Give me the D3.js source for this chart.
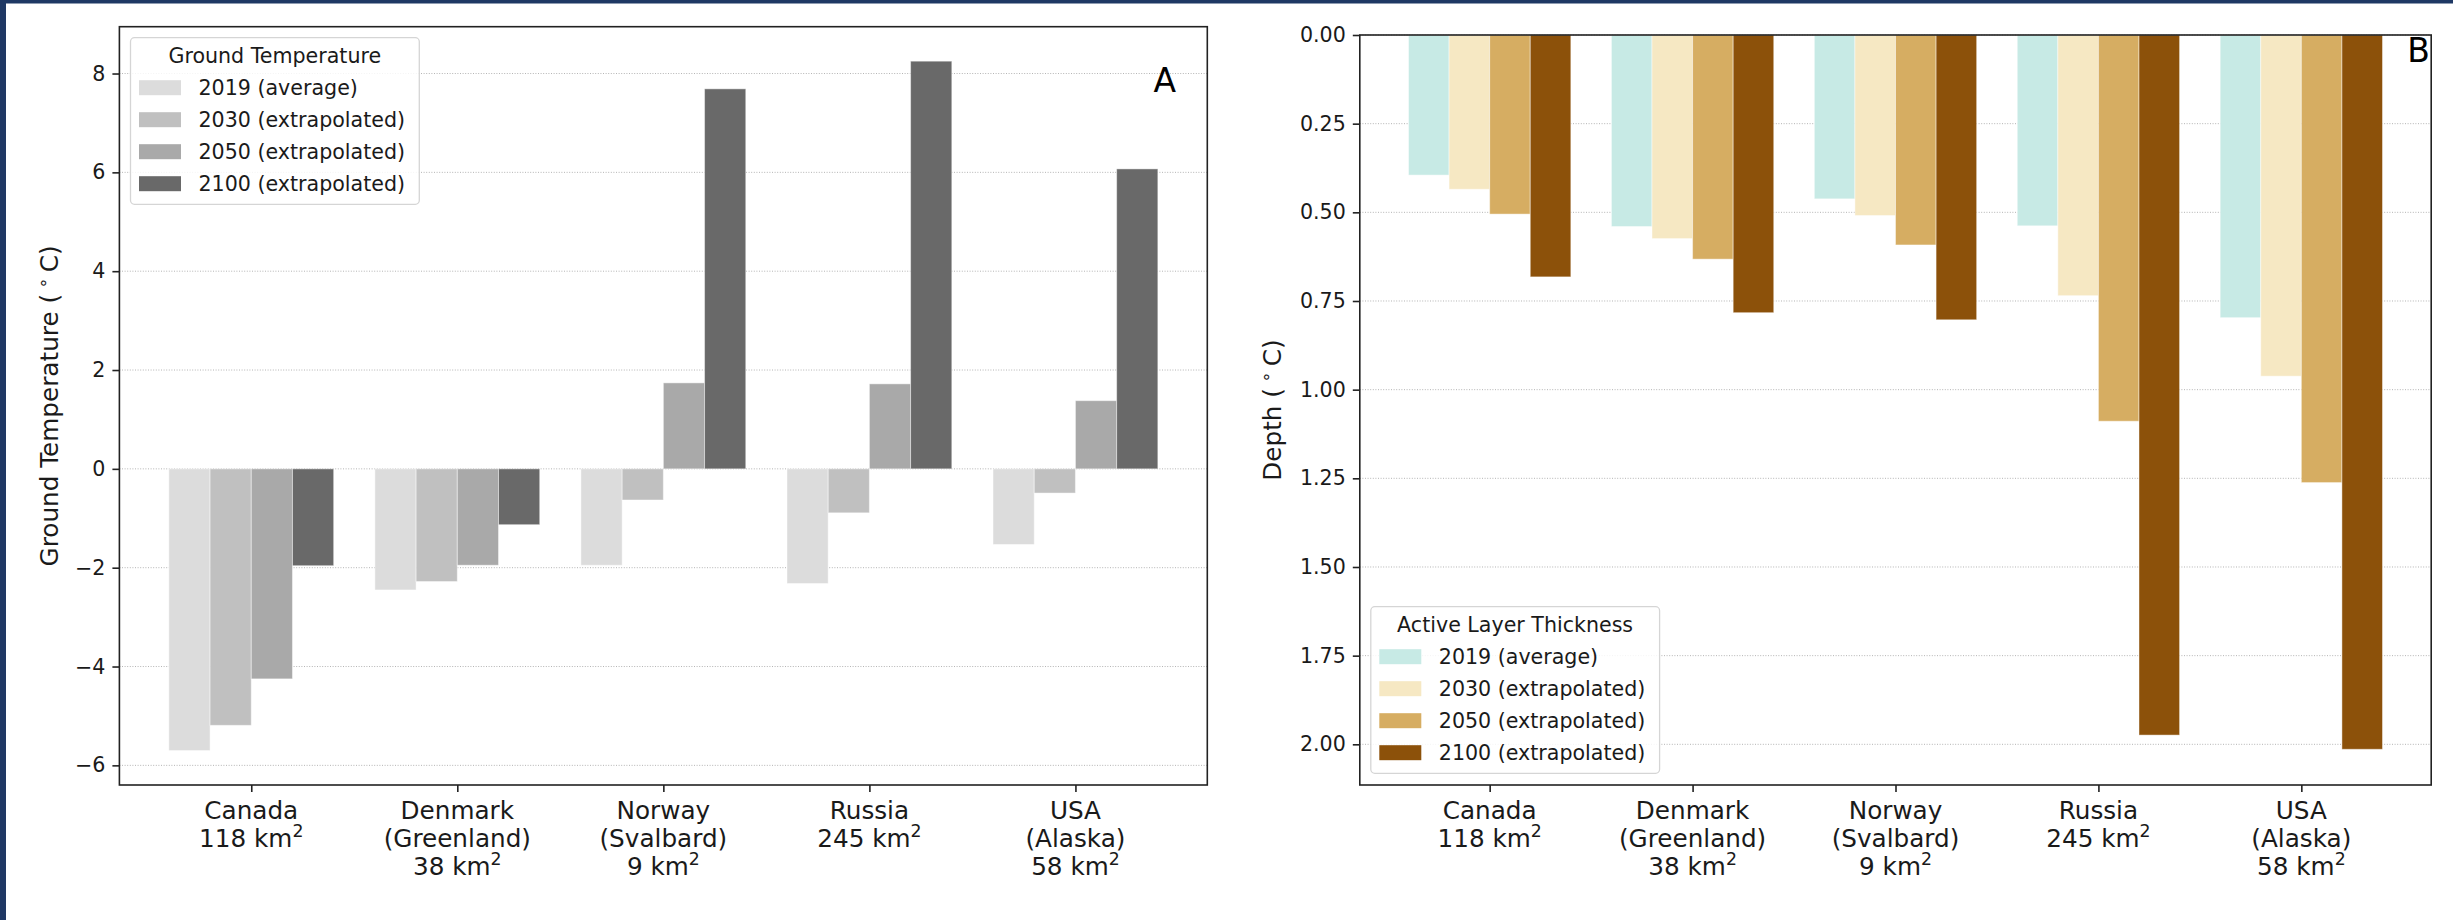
<!DOCTYPE html>
<html>
<head>
<meta charset="utf-8">
<script src="https://cdn.jsdelivr.net/npm/d3@7"></script>
<style>
  html, body { margin: 0; padding: 0; background: #ffffff; }
  svg { display: block; font-family: "DejaVu Sans", sans-serif; }
</style>
</head>
<body>
<svg id="chart" width="2453" height="920"></svg>
<script>
// ---------------- data ----------------
const countries = ["Canada", "Denmark", "Norway", "Russia", "USA"];
const regions   = [null, "(Greenland)", "(Svalbard)", null, "(Alaska)"];
const areasKm2  = [118, 38, 9, 245, 58];

const seriesLabels = ["2019 (average)", "2030 (extrapolated)", "2050 (extrapolated)", "2100 (extrapolated)"];

// Panel A: ground temperature (°C)
const temp2019 = [-5.70, -2.45, -1.95, -2.32, -1.53];
const temp2030 = [-5.19, -2.28, -0.63, -0.89, -0.49];
const temp2050 = [-4.25, -1.95,  1.74,  1.72,  1.38];
const temp2100 = [-1.96, -1.13,  7.69,  8.25,  6.07];

// Panel B: active layer thickness (depth)
const alt2019 = [0.395, 0.540, 0.462, 0.538, 0.797];
const alt2030 = [0.435, 0.574, 0.509, 0.735, 0.962];
const alt2050 = [0.505, 0.632, 0.592, 1.089, 1.262];
const alt2100 = [0.682, 0.783, 0.803, 1.974, 2.014];

const tempTicks  = [-6, -4, -2, 0, 2, 4, 6, 8];
const depthTicks = [0, 0.25, 0.5, 0.75, 1.0, 1.25, 1.5, 1.75, 2.0];

const greyColors  = ["#dcdcdc", "#c0c0c0", "#a9a9a9", "#696969"];
const brownColors = ["#c7eae5", "#f6e8c3", "#d6ad62", "#8c510a"];

// ---------------- drawing ----------------
const svg = d3.select("#chart");
const FONT_TICK = 20.6, FONT_LABEL = 24.7, FONT_PANEL = 33;
const TXT = "#1a1a1a";

// navy frame strips
svg.append("rect").attr("x", 0).attr("y", 0).attr("width", 2453).attr("height", 3.5).attr("fill", "#1f3864");
svg.append("rect").attr("x", 0).attr("y", 0).attr("width", 6).attr("height", 920).attr("fill", "#1f3864");

const barWidth = 0.2;

function drawPanel(cfg) {
  const g = svg.append("g");
  const {x, y, series, colors} = cfg;
  const [x0, x1] = x.range();
  const [yb, yt] = y.range();
  const top = Math.min(yb, yt), bottom = Math.max(yb, yt);

  // grid
  g.append("g").selectAll("line").data(cfg.ticks).join("line")
    .attr("x1", x0).attr("x2", x1)
    .attr("y1", d => y(d)).attr("y2", d => y(d))
    .attr("stroke", "#b4b4b4").attr("stroke-width", 1).attr("stroke-dasharray", "1,1.6");

  // bars
  series.forEach((vals, si) => {
    g.append("g").selectAll("rect").data(vals).join("rect")
      .attr("x", (d, i) => x(i - 0.4 + si * barWidth))
      .attr("width", x(barWidth) - x(0))
      .attr("y", d => Math.min(y(0), y(d)))
      .attr("height", d => Math.abs(y(d) - y(0)))
      .attr("fill", colors[si])
      .attr("stroke", "#ffffff").attr("stroke-opacity", 0.45).attr("stroke-width", 1);
  });

  // y axis
  const ya = g.append("g").attr("transform", `translate(${x0},0)`)
    .call(d3.axisLeft(y).tickValues(cfg.ticks).tickFormat(cfg.fmt).tickSize(7).tickPadding(7));
  ya.select(".domain").remove();
  ya.selectAll("line").attr("stroke", "#222").attr("stroke-width", 1.6);
  ya.selectAll("text").attr("font-size", FONT_TICK).attr("fill", TXT).attr("font-family", "DejaVu Sans");

  // x axis ticks
  const xa = g.append("g").attr("transform", `translate(0,${bottom})`)
    .call(d3.axisBottom(x).tickValues(d3.range(countries.length)).tickFormat("").tickSize(7));
  xa.select(".domain").remove();
  xa.selectAll("line").attr("stroke", "#222").attr("stroke-width", 1.6);

  // category labels
  countries.forEach((c, i) => {
    const lines = [c];
    if (regions[i]) lines.push(regions[i]);
    lines.push(null);
    const t = g.append("text").attr("text-anchor", "middle").attr("font-size", FONT_LABEL).attr("fill", TXT);
    lines.forEach((ln, li) => {
      const by = bottom + 34.3 + li * 27.9;
      if (ln !== null) {
        t.append("tspan").attr("x", x(i)).attr("y", by).text(ln);
      } else {
        t.append("tspan").attr("x", x(i)).attr("y", by).text(areasKm2[i] + " km");
        t.append("tspan").attr("font-size", FONT_LABEL * 0.7).attr("dy", -10).text("2");
      }
    });
  });

  // frame
  g.append("rect").attr("x", x0).attr("y", top).attr("width", x1 - x0).attr("height", bottom - top)
    .attr("fill", "none").attr("stroke", "#222").attr("stroke-width", 1.6);

  // y label
  const yl = g.append("text")
    .attr("transform", `translate(${cfg.ylabelX},${(top + bottom) / 2}) rotate(-90)`)
    .attr("text-anchor", "middle").attr("font-size", FONT_LABEL).attr("fill", TXT);
  yl.append("tspan").text(cfg.ylabel + " (");
  yl.append("tspan").attr("font-size", FONT_LABEL * 0.7).attr("dy", -9).text(" ∘ ");
  yl.append("tspan").attr("dy", 9).text("C)");

  // panel letter
  g.append("text").attr("x", cfg.letterX).attr("y", cfg.letterY).attr("text-anchor", "end")
    .attr("font-size", FONT_PANEL).attr("fill", "#000").text(cfg.letter);

  // legend
  const L = g.append("g").attr("transform", `translate(${cfg.legendX},${cfg.legendY})`);
  L.append("rect").attr("x", 0).attr("y", 0).attr("width", 288.8).attr("height", 166.6)
    .attr("rx", 4).attr("fill", "#ffffff").attr("fill-opacity", 0.85)
    .attr("stroke", "#d5d5d5").attr("stroke-width", 1.3);
  L.append("text").attr("x", 144.3).attr("y", 25.8).attr("text-anchor", "middle")
    .attr("font-size", FONT_TICK).attr("fill", TXT).text(cfg.legendTitle);
  seriesLabels.forEach((s, si) => {
    const cy = 50 + si * 32;
    L.append("rect").attr("x", 8.5).attr("y", cy - 7.5).attr("width", 42).attr("height", 15).attr("fill", colors[si]);
    L.append("text").attr("x", 68).attr("y", cy + 7.4).attr("font-size", FONT_TICK).attr("fill", TXT).text(s);
  });
}

// Panel A scales
const xDomain = [-0.4 - 0.05 * 4.8, 4.4 + 0.05 * 4.8];
const tempAll = [temp2019, temp2030, temp2050, temp2100].flat();
const tMin = d3.min(tempAll), tMax = d3.max(tempAll), tPad = 0.05 * (tMax - tMin);
const xA = d3.scaleLinear().domain(xDomain).range([119.4, 1207.3]);
const yA = d3.scaleLinear().domain([tMin - tPad, tMax + tPad]).range([785, 26.7]);

drawPanel({
  x: xA, y: yA, series: [temp2019, temp2030, temp2050, temp2100], colors: greyColors,
  ticks: tempTicks, fmt: d3.format("d"),
  ylabel: "Ground Temperature", ylabelX: 57.5,
  letter: "A", letterX: 1176, letterY: 91.7,
  legendX: 130.5, legendY: 37.7, legendTitle: "Ground Temperature"
});

// Panel B scales
const altMax = d3.max([alt2019, alt2030, alt2050, alt2100].flat());
const xB = d3.scaleLinear().domain(xDomain).range([1359.8, 2431.2]);
const yB = d3.scaleLinear().domain([0, altMax * 1.05]).range([35, 785]);

drawPanel({
  x: xB, y: yB, series: [alt2019, alt2030, alt2050, alt2100], colors: brownColors,
  ticks: depthTicks, fmt: d3.format(".2f"),
  ylabel: "Depth", ylabelX: 1280.7,
  letter: "B", letterX: 2430, letterY: 61.7,
  legendX: 1370.8, legendY: 606.7, legendTitle: "Active Layer Thickness"
});
</script>
</body>
</html>
